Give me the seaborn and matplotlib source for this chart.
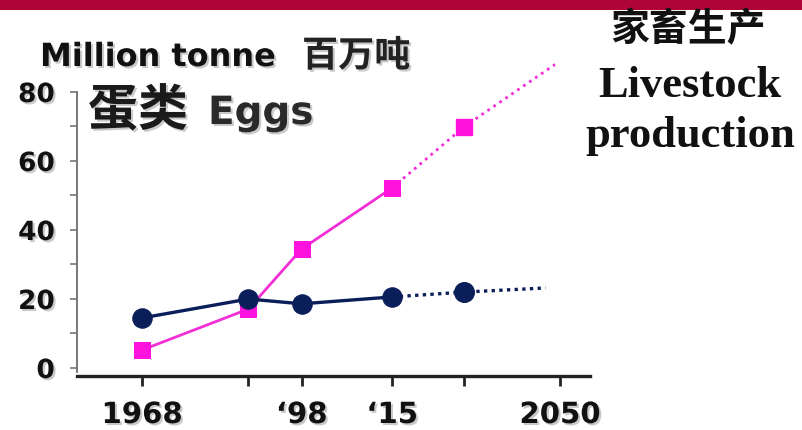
import numpy as np
import pandas as pd
import matplotlib
matplotlib.use("Agg")
import matplotlib.pyplot as plt
import matplotlib.patheffects as pe
from matplotlib.patches import Rectangle
import seaborn as sns

# Egg output, million tonnes
years_hist = [1968, 1988, 1998, 2015]
group_a_hist = [5.2, 17.1, 34.5, 52.2]
group_b_hist = [14.5, 20.0, 18.6, 20.6]

# Projections (dotted), starting from the last observed year
years_proj_a = [2015, 2030, 2049]
group_a_proj = [52.2, 69.9, 88.0]
years_proj_b = [2015, 2030, 2047]
group_b_proj = [20.6, 22.0, 23.2]
proj_marker_year = [2030]
group_a_marker = [69.9]
group_b_marker = [22.0]

tick_years = [1968, 1988, 1998, 2015, 2030, 2050]
tick_labels = ["1968", "", "\u201898", "\u201815", "", "2050"]
y_major = [0, 20, 40, 60, 80]
y_minor = [10, 30, 50, 70]

PINK_LINE = "#F22ED6"
PINK_MARK = "#FF12DE"
NAVY = "#0A1E5A"

sns.set_style("ticks")
plt.rcParams["font.family"] = ["DejaVu Sans", "Noto Sans CJK SC"]

W, H = 803, 431
fig = plt.figure(figsize=(W / 100, H / 100), dpi=100)
fig.patch.set_facecolor("white")


def fx(px):
    return px / W


def fy(py):
    return 1 - py / H


# Time axis: slightly compressed beyond 2015
def fwd(x):
    x = np.asarray(x, dtype=float)
    return np.where(x <= 2015, x, 2015 + (x - 2015) * 0.9)


def inv(u):
    u = np.asarray(u, dtype=float)
    return np.where(u <= 2015, u, 2015 + (u - 2015) / 0.9)


ax = fig.add_axes([fx(77), 54 / H, 513 / W, 325.4 / H])
ax.set_facecolor("none")
ax.set_xscale("function", functions=(fwd, inv))
ax.set_xlim(1955.8, 2056.3)
ax.set_ylim(-2.32, 92)

hist = pd.DataFrame({"year": years_hist, "a": group_a_hist, "b": group_b_hist})
proj_a = pd.DataFrame({"year": years_proj_a, "a": group_a_proj})
proj_b = pd.DataFrame({"year": years_proj_b, "b": group_b_proj})

# Pink series
sns.lineplot(data=proj_a, x="year", y="a", ax=ax, color=PINK_LINE, lw=2.0,
             linestyle=(0, (1, 1.6)))
sns.lineplot(data=hist, x="year", y="a", ax=ax, color=PINK_LINE, lw=2.0,
             marker="s", markersize=12, markerfacecolor=PINK_MARK,
             markeredgecolor=PINK_MARK)
sns.scatterplot(x=proj_marker_year, y=group_a_marker, ax=ax, marker="s",
                s=144, color=PINK_MARK, edgecolor=PINK_MARK, zorder=4)

# Navy series
sns.lineplot(data=proj_b, x="year", y="b", ax=ax, color=NAVY, lw=2.4,
             linestyle=(0, (1, 1.3)))
sns.lineplot(data=hist, x="year", y="b", ax=ax, color=NAVY, lw=2.4,
             marker="o", markersize=14, markerfacecolor=NAVY,
             markeredgecolor=NAVY)
sns.scatterplot(x=proj_marker_year, y=group_b_marker, ax=ax, marker="o",
                s=196, color=NAVY, edgecolor=NAVY, zorder=4)

ax.set_xlabel("")
ax.set_ylabel("")

shadow = [pe.withSimplePatchShadow(offset=(1.5, -1.5), shadow_rgbFace="#888888",
                                   alpha=0.45)]

ax.set_xticks(tick_years)
ax.set_xticklabels(tick_labels)
ax.set_yticks(y_major)
ax.set_yticks(y_minor, minor=True)
ax.tick_params(axis="x", length=7, width=2, color="#222222", pad=11,
               labelsize=21, labelcolor="#111111")
ax.tick_params(axis="y", which="both", length=5, width=1.2, color="#777777",
               pad=11, labelsize=19, labelcolor="#111111")
for lab in ax.get_xticklabels() + ax.get_yticklabels():
    lab.set_fontweight("bold")
    lab.set_path_effects(shadow)

for side in ("top", "right"):
    ax.spines[side].set_visible(False)
ax.spines["left"].set_color("#777777")
ax.spines["left"].set_linewidth(1.4)
ax.spines["left"].set_bounds(-1.2, 80)
ax.spines["bottom"].set_color("#222222")
ax.spines["bottom"].set_linewidth(2.4)

# Header band
fig.patches.append(Rectangle((0, fy(11)), 1, 11 / H, transform=fig.transFigure,
                             facecolor="#AE0536", edgecolor="none", zorder=0))

# Titles and unit label
fig.text(fx(40), fy(67), "Million tonne", ha="left", va="baseline",
         fontsize=23, fontweight="bold", color="#111111",
         family=["DejaVu Sans"], path_effects=shadow)
fig.text(fx(302), fy(57), "百万吨", ha="left", va="center", fontsize=26,
         fontweight="bold", color="#222222",
         family=["Noto Sans CJK SC", "DejaVu Sans"], path_effects=shadow)
fig.text(fx(88), fy(112), "蛋类", ha="left", va="center", fontsize=36,
         fontweight="bold", color="#1a1a1a",
         family=["Noto Sans CJK SC", "DejaVu Sans"], path_effects=shadow)
fig.text(fx(208), fy(125), "Eggs", ha="left", va="baseline", fontsize=28,
         fontweight="bold", color="#2a2a2a",
         family=["DejaVu Sans"], path_effects=shadow)

fig.text(fx(688), fy(30), "家畜生产", ha="center", va="center", fontsize=28,
         fontweight="bold", color="#111111",
         family=["Noto Sans CJK SC", "DejaVu Sans"])
fig.text(fx(690), fy(97), "Livestock", ha="center", va="baseline",
         fontsize=32, fontweight="bold", color="#111111",
         family=["Liberation Serif"])
fig.text(fx(690), fy(147), "production", ha="center", va="baseline",
         fontsize=32, fontweight="bold", color="#111111",
         family=["Liberation Serif"])

fig.savefig("out.png", dpi=100, facecolor="white")
